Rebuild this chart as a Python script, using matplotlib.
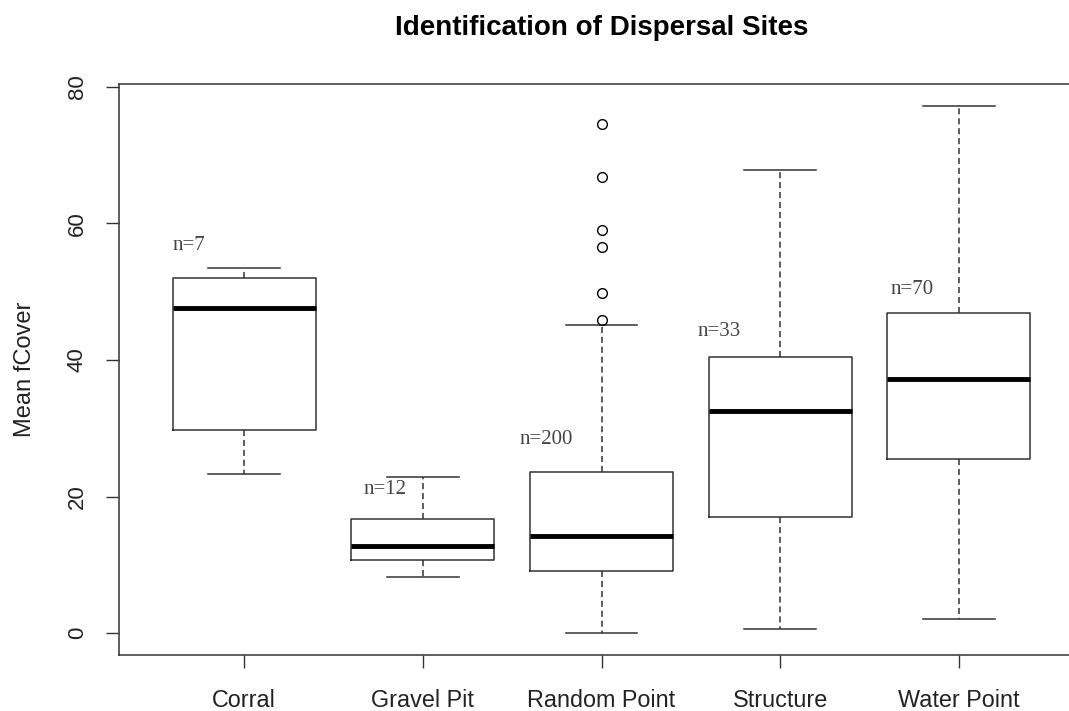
import matplotlib
matplotlib.use("Agg")
import matplotlib.pyplot as plt

categories = ["Corral", "Gravel Pit", "Random Point", "Structure", "Water Point"]
whislo = [23.3, 8.2, 0.0, 0.6, 2.1]
q1 = [29.7, 10.7, 9.1, 17.0, 25.5]
med = [47.6, 12.7, 14.2, 32.5, 37.2]
q3 = [52.0, 16.7, 23.6, 40.4, 46.9]
whishi = [53.5, 22.9, 45.1, 67.8, 77.2]
fliers = [[], [], [74.6, 66.8, 59.0, 56.6, 49.8, 45.9], [], []]
counts = [7, 12, 200, 33, 70]
count_label_y = [56.7, 21.1, 28.3, 44.1, 50.3]
count_label_dx = [-0.31, -0.21, -0.31, -0.34, -0.26]

W, H = 1069, 711
fig = plt.figure(figsize=(W / 100, H / 100), dpi=100)
ax = fig.add_axes([119 / W, 1 - 655 / H, (1084 - 119) / W, (655 - 84) / H])

stats = []
for i, name in enumerate(categories):
    stats.append(dict(label=name, whislo=whislo[i], q1=q1[i], med=med[i],
                      q3=q3[i], whishi=whishi[i], fliers=fliers[i]))

lc = "#333333"
positions = list(range(1, len(categories) + 1))
ax.bxp(stats, positions=positions, widths=0.8, showfliers=True,
       boxprops=dict(color=lc, linewidth=1.1),
       medianprops=dict(color="black", linewidth=3.5, solid_capstyle="butt"),
       whiskerprops=dict(color=lc, linewidth=1.1, linestyle=(0, (4, 2.5))),
       capprops=dict(color=lc, linewidth=1.1),
       capwidths=0.4,
       flierprops=dict(marker="o", markerfacecolor="none", markeredgecolor="black",
                       markersize=7, markeredgewidth=1.0))

for i, n in enumerate(counts):
    ax.text(positions[i] + count_label_dx[i], count_label_y[i], f"n={n}",
            ha="center", va="center", fontsize=15, color="#444444",
            family="Liberation Serif")

ax.set_xlim(0.3, 5.7)
ax.set_ylim(-3.2, 80.4)
ax.set_yticks([0, 20, 40, 60, 80])
ax.set_yticklabels(["0", "20", "40", "60", "80"], rotation=90, va="center",
                   fontsize=16, family="Liberation Sans", color="#222222")
ax.set_xticks(positions)
ax.set_xticklabels(categories, fontsize=16.8, family="Liberation Sans", color="#222222")
ax.tick_params(axis="both", direction="out", length=9.5, width=1.0, color=lc)
ax.tick_params(axis="x", pad=15)
ax.tick_params(axis="y", pad=13)
for s in ax.spines.values():
    s.set_color(lc)
    s.set_linewidth(1.1)

ax.set_ylabel("Mean fCover", fontsize=17, family="Liberation Sans", color="#222222",
              labelpad=22)
fig.text((119 + 1084) / 2 / W, 1 - 28 / H, "Identification of Dispersal Sites",
         ha="center", va="center", fontsize=20, fontweight="bold",
         family="Liberation Sans")

fig.savefig("out.png", dpi=100)
